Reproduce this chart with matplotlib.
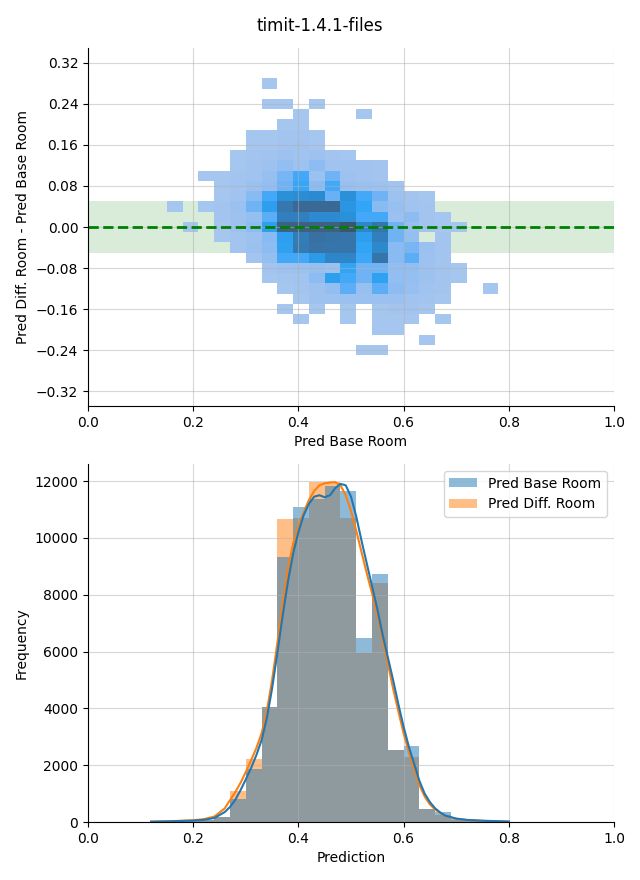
import numpy as np
import matplotlib
matplotlib.use("Agg")
import matplotlib.pyplot as plt
from matplotlib.colors import ListedColormap, LinearSegmentedColormap, to_rgb
from matplotlib.patches import Patch

# ---------------- data ----------------
title = "timit-1.4.1-files"

# 2D histogram (top panel): x bins of 0.03 from 0.15, y bins of 0.02 centred on 0
x_edges = [0.15, 0.18, 0.21, 0.24, 0.27, 0.30, 0.33, 0.36, 0.39, 0.42, 0.45,
           0.48, 0.51, 0.54, 0.57, 0.60, 0.63, 0.66, 0.69, 0.72, 0.75, 0.78]
y_centers = [0.28, 0.26, 0.24, 0.22, 0.20, 0.18, 0.16, 0.14, 0.12, 0.10, 0.08,
             0.06, 0.04, 0.02, 0.00, -0.02, -0.04, -0.06, -0.08, -0.10, -0.12,
             -0.14, -0.16, -0.18, -0.20, -0.22, -0.24]
counts_2d = [
    [0,0,0,0,0,0,3,0,0,0,0,0,0,0,0,0,0,0,0,0,0],
    [0,0,0,0,0,0,0,0,0,0,0,0,0,0,0,0,0,0,0,0,0],
    [0,0,0,0,0,0,3,3,0,3,0,0,0,0,0,0,0,0,0,0,0],
    [0,0,0,0,0,0,0,0,3,0,0,0,3,0,0,0,0,0,0,0,0],
    [0,0,0,0,0,0,0,3,3,0,0,0,0,0,0,0,0,0,0,0,0],
    [0,0,0,0,0,3,3,4,4,3,0,0,0,0,0,0,0,0,0,0,0],
    [0,0,0,0,0,3,3,4,5,3,0,0,0,0,0,0,0,0,0,0,0],
    [0,0,0,0,3,4,5,6,5,6,4,3,0,0,0,0,0,0,0,0,0],
    [0,0,0,0,3,5,6,10,6,12,5,5,5,4,0,0,0,0,0,0,0],
    [0,0,3,3,4,5,8,18,30,7,20,6,5,4,0,0,0,0,0,0,0],
    [0,0,0,3,4,7,10,20,32,12,30,8,7,6,4,0,0,0,0,0,0],
    [0,0,0,3,5,13,30,50,52,54,22,50,30,20,6,4,3,0,0,0,0],
    [3,0,3,4,7,20,38,70,82,82,82,46,33,13,8,5,4,0,0,0,0],
    [0,0,0,4,6,9,25,64,64,54,54,50,30,30,7,12,4,3,0,0,0],
    [0,3,0,3,6,12,38,90,90,90,90,100,58,72,20,8,4,3,3,0,0],
    [0,0,0,3,4,6,13,38,66,76,74,72,38,64,20,9,0,4,0,0,0],
    [0,0,0,0,4,7,12,36,68,74,72,72,34,56,13,18,7,4,0,0,0],
    [0,0,0,0,0,4,9,30,30,42,58,58,31,72,13,25,6,4,0,0,0],
    [0,0,0,0,0,0,4,6,7,8,7,34,20,20,10,10,6,4,3,0,0],
    [0,0,0,0,0,0,3,4,5,12,38,30,20,36,10,9,6,4,3,0,0],
    [0,0,0,0,0,0,0,3,4,6,10,25,8,25,12,8,5,4,0,0,3],
    [0,0,0,0,0,0,0,0,3,6,6,7,7,7,7,5,4,3,0,0,0],
    [0,0,0,0,0,0,0,3,0,3,0,3,0,3,4,4,3,0,0,0,0],
    [0,0,0,0,0,0,0,0,3,0,0,3,0,3,3,3,0,3,0,0,0],
    [0,0,0,0,0,0,0,0,0,0,0,0,0,3,3,0,0,0,0,0,0],
    [0,0,0,0,0,0,0,0,0,0,0,0,0,0,0,0,3,0,0,0,0],
    [0,0,0,0,0,0,0,0,0,0,0,0,3,3,0,0,0,0,0,0,0],
]

# 1D histograms (bottom panel), bins of 0.03 starting at 0.12
hist_edges = [0.12, 0.15, 0.18, 0.21, 0.24, 0.27, 0.30, 0.33, 0.36, 0.39, 0.42, 0.45,
              0.48, 0.51, 0.54, 0.57, 0.60, 0.63, 0.66, 0.69, 0.72, 0.75, 0.78, 0.81]
base_counts = [5, 10, 20, 60, 190, 810, 1865, 4050, 9310, 11080, 11355, 11830,
               11650, 6470, 8725, 2530, 2675, 470, 350, 90, 30, 12, 5]
diff_counts = [8, 12, 30, 80, 180, 1090, 2215, 4040, 10660, 10700, 11975, 11960,
               10710, 5945, 8400, 2530, 2300, 460, 250, 60, 20, 8, 3]

# KDE curves
kde_x = [0.12, 0.16, 0.20, 0.22, 0.24, 0.26, 0.27, 0.28, 0.29, 0.30, 0.31, 0.32, 0.33,
         0.34, 0.35, 0.36, 0.37, 0.38, 0.39, 0.40, 0.41, 0.42, 0.43, 0.44, 0.45, 0.46,
         0.47, 0.48, 0.49, 0.50, 0.51, 0.52, 0.53, 0.54, 0.55, 0.56, 0.57, 0.58, 0.59,
         0.60, 0.61, 0.62, 0.63, 0.64, 0.65, 0.66, 0.67, 0.68, 0.70, 0.72, 0.75, 0.80]
kde_base = [10, 25, 50, 75, 140, 350, 530, 780, 1120, 1500, 1900, 2350, 2880,
            3650, 4700, 5950, 7250, 8450, 9450, 10200, 10800, 11200, 11450, 11500, 11430, 11500,
            11750, 11900, 11850, 11450, 10750, 9900, 9100, 8300, 7500, 6600, 5800, 5000, 4150,
            3350, 2650, 2050, 1450, 1000, 700, 480, 330, 220, 120, 75, 45, 15]
kde_diff = [15, 30, 60, 100, 190, 480, 770, 1050, 1380, 1760, 2170, 2600, 3120,
            3900, 5000, 6300, 7650, 8900, 9800, 10400, 10900, 11330, 11650, 11850, 11920, 11950,
            11960, 11850, 11500, 10950, 10250, 9500, 8750, 8050, 7300, 6450, 5580, 4700, 3900,
            3120, 2450, 1870, 1300, 900, 620, 440, 310, 210, 115, 70, 40, 15]

labels = ["Pred Base Room", "Pred Diff. Room"]

# ---------------- colormap (seaborn style from C0) ----------------
def seed_cmap(color):
    try:
        from seaborn.external import husl
        r, g, b = to_rgb(color)
        h, s, _ = husl.rgb_to_husl(r, g, b)
        xx = np.linspace(-1, 1, int(1.15 * 256))[:256]
        ramp = np.zeros((256, 3))
        ramp[:, 0] = h
        ramp[:, 1] = s * np.cos(xx)
        ramp[:, 2] = np.linspace(35, 80, 256)
        cols = np.clip([husl.husl_to_rgb(*hsl) for hsl in ramp], 0, 1)
        return ListedColormap(cols[::-1])
    except Exception:
        return LinearSegmentedColormap.from_list(
            "c0", ["#a9c8f0", "#2a9bf0", "#3d4a66"])

cmap = seed_cmap("#1f77b4")

# ---------------- figure ----------------
fig = plt.figure(figsize=(6.4, 8.8), dpi=100)
ax1 = fig.add_axes([88/640, 1-406/880, 526/640, 358/880])
ax2 = fig.add_axes([88/640, 1-822/880, 526/640, 358/880])
fig.suptitle(title, fontsize=12, y=1-26/880, va="center")

# Top panel
ax1.axhspan(-0.05, 0.05, color="green", alpha=0.15, lw=0, zorder=0.8)
yc = np.array(y_centers)[::-1]
y_edges = np.concatenate([yc - 0.01, [yc[-1] + 0.01]])
C = np.array(counts_2d, dtype=float)[::-1]
Cm = np.ma.masked_equal(C, 0)
ax1.pcolormesh(np.array(x_edges), y_edges, Cm, cmap=cmap, vmin=0, vmax=C.max(), zorder=1)
ax1.axhline(0, color="green", linestyle="--", lw=2, zorder=2)
ax1.set_xlim(0, 1)
ax1.set_ylim(-0.349, 0.349)
ax1.set_yticks(np.round(np.arange(-0.32, 0.33, 0.08), 2))
ax1.set_xticks(np.arange(0, 1.01, 0.2))
ax1.grid(True, alpha=0.5)
ax1.set_xlabel("Pred Base Room")
ax1.set_ylabel("Pred Diff. Room - Pred Base Room")

# Bottom panel
edges = np.array(hist_edges)
widths = np.diff(edges)
ax2.bar(edges[:-1], diff_counts, width=widths, align="edge", color="C1", alpha=0.5, lw=0)
ax2.bar(edges[:-1], base_counts, width=widths, align="edge", color="C0", alpha=0.5, lw=0)
ax2.plot(kde_x, kde_diff, color="C1", lw=1.5)
ax2.plot(kde_x, kde_base, color="C0", lw=1.5)
ax2.set_xlim(0, 1)
ax2.set_ylim(0, 12600)
ax2.set_xticks(np.arange(0, 1.01, 0.2))
ax2.set_yticks(np.arange(0, 12001, 2000))
ax2.grid(True, alpha=0.5)
ax2.set_xlabel("Prediction")
ax2.set_ylabel("Frequency")
handles = [Patch(facecolor="C0", alpha=0.5, lw=0), Patch(facecolor="C1", alpha=0.5, lw=0)]
ax2.legend(handles, labels, loc="upper right")

for ax in (ax1, ax2):
    ax.spines["top"].set_visible(False)
    ax.spines["right"].set_visible(False)

fig.savefig("out.png", dpi=100)
